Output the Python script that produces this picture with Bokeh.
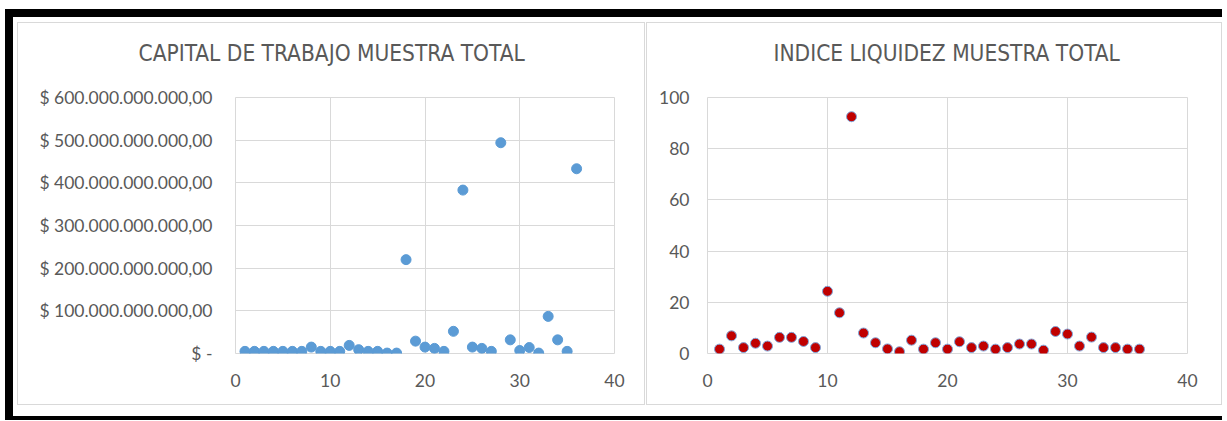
from bokeh.plotting import figure
from bokeh.layouts import row
from bokeh.models import Range1d, FixedTicker, ColumnDataSource, Title
from bokeh.embed import file_html
from bokeh.resources import INLINE

# ---- data ----
obs = list(range(1, 37))
capital_trabajo = [5e9, 5e9, 5e9, 5e9, 5e9, 5e9, 5e9, 15e9, 5e9, 5e9,
                   5e9, 19e9, 9e9, 5e9, 5e9, 1e9, 1e9, 220e9, 29e9, 15e9,
                   12e9, 5e9, 52e9, 383e9, 15e9, 12e9, 5e9, 494e9, 32e9, 7e9,
                   14e9, 1e9, 87e9, 32e9, 5e9, 433e9]
indice_liquidez = [1.7, 6.9, 2.3, 4.0, 2.9, 6.3, 6.3, 4.7, 2.3, 24.3,
                   15.9, 92.5, 8.0, 4.2, 1.8, 0.7, 5.2, 1.7, 4.2, 1.7,
                   4.6, 2.3, 2.9, 1.7, 2.3, 3.7, 3.7, 1.3, 8.6, 7.6,
                   2.9, 6.4, 2.3, 2.3, 1.7, 1.7]
x_ticks = [0, 10, 20, 30, 40]
cap_ticks = [0, 100e9, 200e9, 300e9, 400e9, 500e9, 600e9]
cap_tick_labels = ["$ -", "$ 100.000.000.000,00", "$ 200.000.000.000,00",
                   "$ 300.000.000.000,00", "$ 400.000.000.000,00",
                   "$ 500.000.000.000,00", "$ 600.000.000.000,00"]
liq_ticks = [0, 20, 40, 60, 80, 100]
title_left = "CAPITAL DE TRABAJO MUESTRA TOTAL"
title_right = "INDICE LIQUIDEZ MUESTRA TOTAL"

GRID = "#d9d9d9"
TXT = "#595959"
TICK_FONT = "Lato"
TITLE_FONT = "DejaVu Sans Condensed"


def style(p, yticks):
    p.xaxis.ticker = FixedTicker(ticks=x_ticks)
    p.yaxis.ticker = FixedTicker(ticks=yticks)
    for ax in (p.xaxis[0], p.yaxis[0]):
        ax.axis_line_color = None
        ax.major_tick_line_color = None
        ax.minor_tick_line_color = None
        ax.major_label_text_color = TXT
        ax.major_label_text_font = TICK_FONT
        ax.major_label_text_font_size = "17.5px"
    p.xaxis.major_label_standoff = 14
    p.xgrid.grid_line_color = GRID
    p.ygrid.grid_line_color = GRID
    p.xgrid.ticker = FixedTicker(ticks=x_ticks)
    p.ygrid.ticker = FixedTicker(ticks=yticks)
    p.outline_line_color = GRID
    p.background_fill_color = "white"
    p.border_fill_color = "white"


def add_title(p, text, offset):
    # blank spacer between the title and the plot frame
    p.add_layout(Title(text=" ", text_font=TITLE_FONT, text_font_size="22.5px",
                       standoff=2), "above")
    p.add_layout(Title(text=text, align="left", offset=offset,
                       vertical_align="top",
                       text_font=TITLE_FONT, text_font_size="22.5px",
                       text_color=TXT, text_font_style="normal",
                       standoff=0), "above")


# ---- left chart ----
p1 = figure(width=628, height=383, output_backend="svg", toolbar_location=None,
            x_range=Range1d(0, 40), y_range=Range1d(0, 600e9),
            min_border_left=217, min_border_right=32, min_border_top=74,
            min_border_bottom=53,
            styles={"border": "1px solid #d9d9d9"})
style(p1, cap_ticks)
p1.yaxis.major_label_overrides = {int(t): l for t, l in zip(cap_ticks, cap_tick_labels)}
p1.yaxis.major_label_standoff = 17
src1 = ColumnDataSource(dict(x=obs, y=capital_trabajo))
p1.scatter("x", "y", source=src1, size=10, fill_color="#5b9bd5",
           line_color="#5b9bd5", line_width=1)
add_title(p1, title_left, -97)

# ---- right chart ----
p2 = figure(width=576, height=383, output_backend="svg", toolbar_location=None,
            x_range=Range1d(0, 40), y_range=Range1d(0, 100),
            min_border_left=60, min_border_right=36, min_border_top=74,
            min_border_bottom=53,
            styles={"border": "1px solid #d9d9d9"})
style(p2, liq_ticks)
p2.yaxis.major_label_standoff = 12
src2 = ColumnDataSource(dict(x=obs, y=indice_liquidez))
p2.scatter("x", "y", source=src2, size=10, fill_color="#c00000",
           line_color="#7fa8dc", line_width=1)
add_title(p2, title_right, 66)

layout = row(p1, p2, spacing=1,
             styles={"margin-top": "9px", "margin-left": "5px",
                     "border-top": "8px solid black",
                     "border-left": "8px solid black",
                     "border-bottom": "4px solid black",
                     "padding-top": "5px", "padding-bottom": "11px",
                     "padding-left": "4px", "background-color": "white"})

open("out.html", "w").write(file_html(layout, INLINE))
